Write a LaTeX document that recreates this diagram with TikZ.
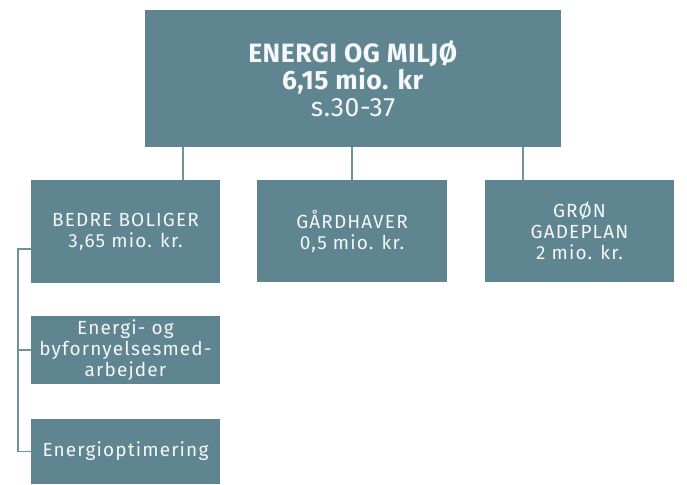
\documentclass[tikz,border=0pt]{standalone}
\usepackage{fontspec}
\setmainfont{Fira Sans}
\newfontfamily\boxfont[LetterSpace=6]{Fira Sans}
\newfontfamily\topfont[LetterSpace=2]{Fira Sans}
\usetikzlibrary{calc}
\definecolor{boxfill}{RGB}{94,133,144}
\definecolor{linec}{RGB}{110,147,157}
\definecolor{txt}{RGB}{245,247,248}
\tikzset{
  orgbox/.style={fill=boxfill, text=txt, inner sep=0pt, align=center, font=\boxfont\fontsize{19}{21}\selectfont},
  link/.style={draw=linec, line width=1.6pt}
}
\begin{document}
\begin{tikzpicture}[x=1pt,y=1pt]
\useasboundingbox (0,0) rectangle (687,-484);
\node[orgbox, minimum width=416, minimum height=137, font=\topfont\fontsize{26.5}{27}\selectfont] (top) at (353,-78.5)
  {\textbf{ENERGI OG MILJØ}\\\textbf{6,15 mio. kr}\\s.30-37};
\node[orgbox, minimum width=189, minimum height=103] (b1) at (125.5,-231.5) {BEDRE BOLIGER\\3,65 mio. kr.};
\node[orgbox, minimum width=190, minimum height=102] (b2) at (352,-231) {GÅRDHAVER\\0,5 mio. kr.};
\node[orgbox, minimum width=189, minimum height=102] (b3) at (579.5,-231) {GRØN\\GADEPLAN\\2 mio. kr.};
\node[orgbox, minimum width=189, minimum height=68] (s1) at (125.5,-350) {Energi- og\\byfornyelsesmed-\\arbejder};
\node[orgbox, minimum width=189, minimum height=65] (s2) at (125.5,-451.5) {Energioptimering};
\coordinate (c1) at (183,0);
\coordinate (c3) at (523,0);
\coordinate (brk) at (18,0);
\coordinate (t1) at (31,-249);
\draw[link] (top.south -| c1) -- (b1.north -| c1);
\draw[link] (top.south -| b2) -- (b2.north);
\draw[link] (top.south -| c3) -- (b3.north -| c3);
\draw[link] (t1) -- (t1 -| brk) |- (s2.west);
\draw[link] (s1.west) -- (s1.west -| brk);
\end{tikzpicture}
\end{document}
